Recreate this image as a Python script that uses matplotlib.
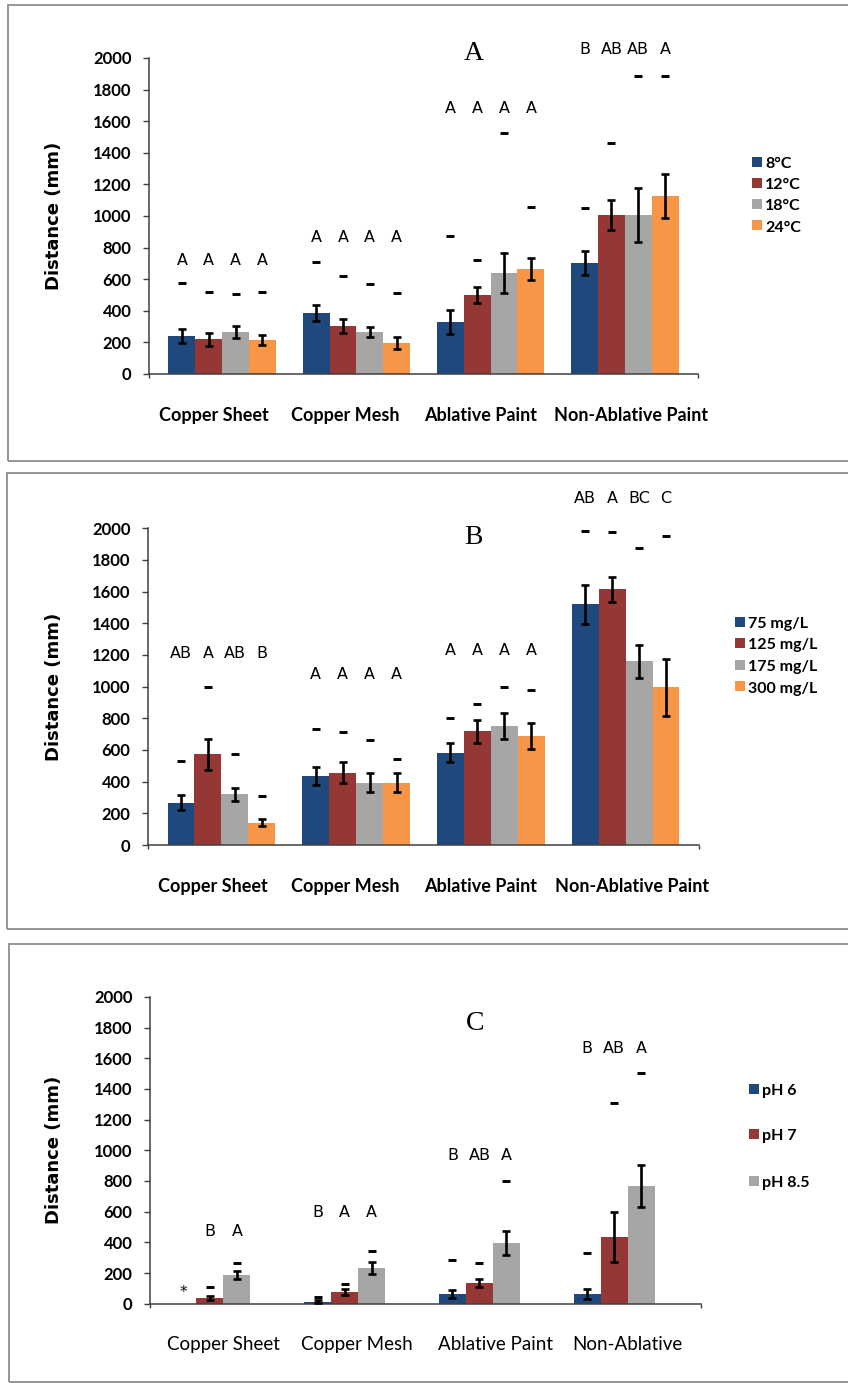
import numpy as np
import matplotlib
matplotlib.use('Agg')
import matplotlib.pyplot as plt
from matplotlib.patches import Rectangle

# ---------------- data ----------------
cats_ab = ['Copper Sheet', 'Copper Mesh', 'Ablative Paint', 'Non-Ablative Paint']
cats_c = ['Copper Sheet', 'Copper Mesh', 'Ablative Paint', 'Non-Ablative']
y_ticks = [0, 200, 400, 600, 800, 1000, 1200, 1400, 1600, 1800, 2000]

# Panel A: temperature
temp_labels = ['8°C', '12°C', '18°C', '24°C']
temp_8 = [240, 386, 329, 702]
temp_12 = [220, 304, 500, 1006]
temp_18 = [266, 266, 639, 1006]
temp_24 = [215, 196, 665, 1127]
temp_err_8 = [43, 53, 77, 75]
temp_err_12 = [40, 42, 52, 95]
temp_err_18 = [40, 30, 125, 172]
temp_err_24 = [33, 37, 68, 138]
temp_dash_8 = [576, 707, 876, 1053]
temp_dash_12 = [521, 622, 724, 1464]
temp_dash_18 = [508, 568, 1523, 1888]
temp_dash_24 = [521, 511, 1059, 1888]
temp_let_8 = ['A', 'A', 'A', 'B']
temp_let_12 = ['A', 'A', 'A', 'AB']
temp_let_18 = ['A', 'A', 'A', 'AB']
temp_let_24 = ['A', 'A', 'A', 'A']
temp_let_height = [728, 873, 1688, 2061]

# Panel B: copper concentration
conc_labels = ['75 mg/L', '125 mg/L', '175 mg/L', '300 mg/L']
conc_75 = [268, 437, 582, 1519]
conc_125 = [572, 456, 717, 1614]
conc_175 = [319, 393, 753, 1159]
conc_300 = [142, 393, 690, 995]
conc_err_75 = [45, 55, 60, 121]
conc_err_125 = [98, 66, 73, 77]
conc_err_175 = [44, 61, 83, 105]
conc_err_300 = [24, 61, 82, 181]
conc_dash_75 = [529, 732, 805, 1980]
conc_dash_125 = [997, 715, 889, 1976]
conc_dash_175 = [572, 662, 997, 1875]
conc_dash_300 = [308, 542, 976, 1951]
conc_let_75 = ['AB', 'A', 'A', 'AB']
conc_let_125 = ['A', 'A', 'A', 'A']
conc_let_175 = ['AB', 'A', 'A', 'BC']
conc_let_300 = ['B', 'A', 'A', 'C']
conc_let_height = [1218, 1088, 1235, 2197]

# Panel C: pH
ph_labels = ['pH 6', 'pH 7', 'pH 8.5']
ph_6 = [np.nan, 12, 63, 63]
ph_7 = [37, 76, 135, 435]
ph_85 = [187, 233, 396, 767]
ph_err_6 = [np.nan, 10, 24, 32]
ph_err_7 = [15, 18, 28, 165]
ph_err_85 = [28, 37, 80, 134]
ph_dash_6 = [np.nan, 46, 283, 332]
ph_dash_7 = [111, 130, 267, 1310]
ph_dash_85 = [267, 341, 802, 1502]
ph_let_6 = ['', 'B', 'B', 'B']
ph_let_7 = ['B', 'A', 'AB', 'AB']
ph_let_85 = ['A', 'A', 'A', 'A']
ph_let_height = [480, 600, 976, 1672]
ph_missing_mark = '*'

colors = ['#1F497D', '#953735', '#A6A6A6', '#F79646']

# ---------------- layout ----------------
W, H, DPI = 848, 1383, 100
fig = plt.figure(figsize=(W / DPI, H / DPI), dpi=DPI)
fig.patch.set_facecolor('white')
PX = 72.0 / DPI  # points per pixel

TICK_FONT = dict(family='Lato', weight='bold', size=12)
LEG_FONT = dict(family='Lato', weight='bold', size=11.5)
LET_FONT = dict(family='DejaVu Sans', size=11.5)
YLAB_FONT = dict(family='DejaVu Sans', weight='bold', size=13)
TITLE_FONT = dict(family='Liberation Serif', size=20)


def panel(box, axpx, series, errs, dashes, letters, let_h, cats, cat_bold, cat_size,
          cat_dx, title, title_pos, legend_labels, leg_x, leg_ys, missing=None):
    # frame around the panel
    bx0, by0, bx1, by1 = box
    fig.add_artist(Rectangle((bx0 / W, 1 - by1 / H), (bx1 - bx0) / W, (by1 - by0) / H,
                             transform=fig.transFigure, fill=False,
                             edgecolor='#8C8C8C', lw=1.3))
    l, r, y0, ytop = axpx
    ax = fig.add_axes([l / W, 1 - y0 / H, (r - l) / W, (y0 - ytop) / H])
    ax.set_xlim(-0.545, 3.545)
    ax.set_ylim(0, 2000)
    x = np.arange(4)
    n_slots = 4
    bw = 0.2
    for j, vals in enumerate(series):
        vals = np.asarray(vals, float)
        e = np.asarray(errs[j], float)
        d = np.asarray(dashes[j], float)
        xs = x + (j - (n_slots - 1) / 2) * bw
        m = ~np.isnan(vals)
        ax.bar(xs[m], vals[m], width=bw, color=colors[j], zorder=2, linewidth=0)
        ax.errorbar(xs[m], vals[m], yerr=e[m], fmt='none', ecolor='black',
                    elinewidth=1.9, capsize=3.0, capthick=1.9, zorder=3)
        md = ~np.isnan(d)
        ax.plot(xs[md], d[md], linestyle='none', marker='_', ms=5.6, mew=2.1,
                color='black', clip_on=False, zorder=4)
        for k in range(4):
            if letters[j][k]:
                ax.annotate(letters[j][k], xy=(xs[k], let_h[k]), xytext=(0, -4.2),
                            textcoords='offset points', ha='center', va='baseline',
                            annotation_clip=False, **LET_FONT)
        if missing is not None:
            for k in range(4):
                if np.isnan(vals[k]):
                    ax.annotate(missing, xy=(xs[k], 0), xytext=(0, 3),
                                textcoords='offset points', ha='center', va='bottom',
                                annotation_clip=False, family='DejaVu Sans', size=11)
    # axes style
    for s in ['top', 'right']:
        ax.spines[s].set_visible(False)
    for s in ['left', 'bottom']:
        ax.spines[s].set_color('#3F3F3F')
        ax.spines[s].set_linewidth(1.1)
    ax.set_yticks(y_ticks)
    ax.set_yticklabels([str(v) for v in y_ticks], **TICK_FONT)
    ax.tick_params(axis='y', length=4.6, width=1.0, color='#3F3F3F', pad=8.0)
    ax.set_xticks([-0.545, 3.545])
    ax.set_xticklabels(['', ''])
    ax.tick_params(axis='x', length=3.2, width=1.0, color='#3F3F3F')
    ax.set_ylabel('Distance (mm)', **YLAB_FONT)
    ax.yaxis.set_label_coords((63 - l) / (r - l), 0.5)
    # category labels
    for k, c in enumerate(cats):
        ax.annotate(c, xy=(x[k], 0), xycoords=('data', 'axes fraction'),
                    xytext=(cat_dx[k] * PX, -33.5), textcoords='offset points',
                    ha='center', va='baseline', annotation_clip=False,
                    family='Lato', weight='bold' if cat_bold else 'normal', size=cat_size)
    # title letter
    ax.annotate(title, xy=title_pos, xycoords='axes fraction', xytext=(0, -6.6),
                textcoords='offset points', ha='center', va='baseline',
                annotation_clip=False, **TITLE_FONT)
    # legend
    for j, lab in enumerate(legend_labels):
        yc = leg_ys[j]
        fig.add_artist(Rectangle(((leg_x - 13) / W, 1 - (yc + 4.5) / H), 9.5 / W, 10 / H,
                                 transform=fig.transFigure, facecolor=colors[j],
                                 edgecolor='none'))
        fig.text(leg_x / W, 1 - (yc + 5.8) / H, lab, ha='left', va='baseline', **LEG_FONT)
    return ax


panel((8, 4.5, 870, 460.5), (149, 698, 374, 58),
      [temp_8, temp_12, temp_18, temp_24],
      [temp_err_8, temp_err_12, temp_err_18, temp_err_24],
      [temp_dash_8, temp_dash_12, temp_dash_18, temp_dash_24],
      [temp_let_8, temp_let_12, temp_let_18, temp_let_24], temp_let_height,
      cats_ab, True, 13, [-8.5, -11, -10, 6.5], 'A', (0.592, 1.022),
      temp_labels, 765, [162.7, 183.3, 204.3, 225.7])

panel((7, 473, 870, 929), (148, 699, 845, 528.3),
      [conc_75, conc_125, conc_175, conc_300],
      [conc_err_75, conc_err_125, conc_err_175, conc_err_300],
      [conc_dash_75, conc_dash_125, conc_dash_175, conc_dash_300],
      [conc_let_75, conc_let_125, conc_let_175, conc_let_300], conc_let_height,
      cats_ab, True, 13, [-8.5, -11, -10, 6.5], 'B', (0.590, 0.979),
      conc_labels, 748, [622.7, 643.3, 665.0, 686.7])

panel((9, 944, 870, 1382), (150, 701, 1303.7, 996.9),
      [ph_6, ph_7, ph_85],
      [ph_err_6, ph_err_7, ph_err_85],
      [ph_dash_6, ph_dash_7, ph_dash_85],
      [ph_let_6, ph_let_7, ph_let_85], ph_let_height,
      cats_c, False, 13.5, [0, -1.5, 3, 0], 'C', (0.590, 0.923),
      ph_labels, 762, [1089.5, 1134.5, 1181.0], missing=ph_missing_mark)

fig.savefig('out.png', dpi=DPI, facecolor='white')
